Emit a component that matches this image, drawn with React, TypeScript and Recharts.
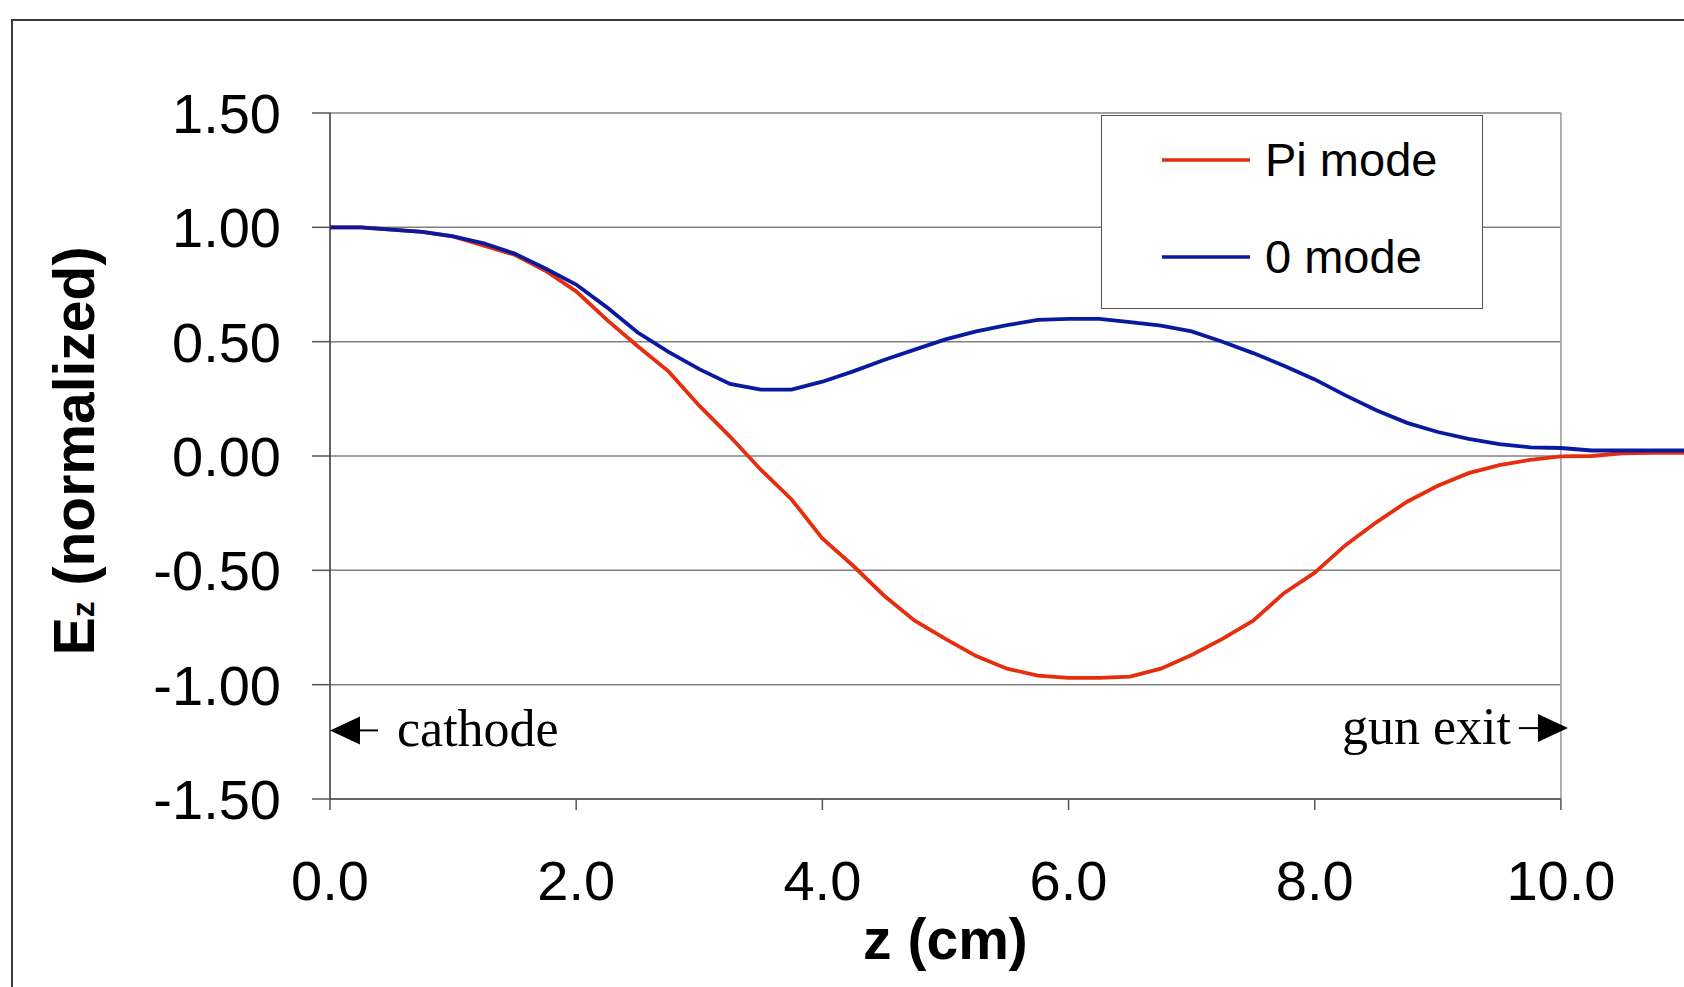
import { LineChart, Line, XAxis, YAxis, ReferenceLine, ReferenceDot, Legend } from "recharts";

// z position along the gun (cm)
const zValues = [
  0, 0.25, 0.5, 0.75, 1, 1.25, 1.5, 1.75, 2, 2.25, 2.5, 2.75, 3, 3.25, 3.5, 3.75,
  4, 4.25, 4.5, 4.75, 5, 5.25, 5.5, 5.75, 6, 6.25, 6.5, 6.75, 7, 7.25, 7.5, 7.75,
  8, 8.25, 8.5, 8.75, 9, 9.25, 9.5, 9.75, 10, 10.25, 10.5, 10.75, 11,
];

// Pi mode, Ez normalized
const piMode = [
  1.0, 1.0, 0.99, 0.98, 0.96, 0.92, 0.88, 0.81, 0.72, 0.595, 0.48, 0.37, 0.22, 0.085, -0.06, -0.19,
  -0.36, -0.48, -0.61, -0.72, -0.8, -0.875, -0.93, -0.96, -0.97, -0.97, -0.965, -0.93, -0.87, -0.8, -0.72, -0.6,
  -0.51, -0.39, -0.29, -0.2, -0.13, -0.075, -0.04, -0.017, -0.002, 0.0, 0.012, 0.014, 0.014,
];

// 0 mode, Ez normalized
const zeroMode = [
  1.0, 1.0, 0.99, 0.98, 0.96, 0.93, 0.885, 0.82, 0.75, 0.65, 0.54, 0.455, 0.38, 0.315, 0.29, 0.29,
  0.325, 0.37, 0.42, 0.465, 0.51, 0.545, 0.572, 0.595, 0.6, 0.6, 0.585, 0.57, 0.545, 0.5, 0.45, 0.395,
  0.335, 0.265, 0.2, 0.145, 0.105, 0.075, 0.052, 0.038, 0.035, 0.024, 0.024, 0.024, 0.024,
];

const seriesNames = ["Pi mode", "0 mode"];
const xTicks = [0, 2, 4, 6, 8, 10];
const yTicks = [-1.5, -1.0, -0.5, 0, 0.5, 1.0, 1.5];

const data = zValues.map((z, i) => ({ z, pi: piMode[i], zero: zeroMode[i] }));

const SANS = '"Liberation Sans", Arial, sans-serif';
const SERIF = '"Liberation Serif", "Times New Roman", serif';
const RED = "#E62E0E";
const BLUE = "#0A1A9F";

function YTitle(props: any) {
  const { viewBox } = props;
  const cx = 94;
  const cy = viewBox.y + viewBox.height / 2 - 5;
  return (
    <text
      x={cx}
      y={cy}
      transform={`rotate(-90, ${cx}, ${cy})`}
      textAnchor="middle"
      fontFamily={SANS}
      fontWeight="bold"
      fontSize={57}
      fill="#000"
    >
      E<tspan fontSize={32}>z</tspan>
      <tspan> (normalized)</tspan>
    </text>
  );
}

function XTitle(props: any) {
  const { viewBox } = props;
  // centred under the 0..10 span of the 0..11 domain
  const cx = viewBox.x + (viewBox.width * 5) / 11;
  return (
    <text x={cx} y={viewBox.y + 160} textAnchor="middle" fontFamily={SANS} fontWeight="bold" fontSize={57} fill="#000">
      z (cm)
    </text>
  );
}

function LegendBox(props: any) {
  const items = [...(props.payload || [])].sort(
    (a: any, b: any) => seriesNames.indexOf(a.value) - seriesNames.indexOf(b.value)
  );
  return (
    <div
      style={{
        position: "relative",
        width: 382,
        height: 194,
        boxSizing: "border-box",
        border: "1.5px solid #555",
        background: "#fff",
      }}
    >
      {items.map((entry: any, i: number) => (
        <div
          key={entry.value}
          style={{
            position: "absolute",
            left: 60,
            top: 44 + i * 97 - 30,
            height: 60,
            display: "flex",
            alignItems: "center",
          }}
        >
          <svg width={90} height={6} style={{ display: "block" }}>
            <line x1={0} y1={3} x2={88} y2={3} stroke={entry.color} strokeWidth={3.6} />
          </svg>
          <span style={{ fontFamily: SANS, fontSize: 47, color: "#000", marginLeft: 13, lineHeight: "60px" }}>
            {entry.value}
          </span>
        </div>
      ))}
    </div>
  );
}

function CathodeMark(props: any) {
  const { cx, cy } = props;
  return (
    <g>
      <polygon points={`${cx},${cy} ${cx + 30},${cy - 14} ${cx + 30},${cy + 14}`} fill="#000" />
      <line x1={cx + 28} y1={cy} x2={cx + 48} y2={cy} stroke="#000" strokeWidth={2} />
      <text x={cx + 67} y={cy + 16} fontFamily={SERIF} fontSize={52} fill="#000">
        cathode
      </text>
    </g>
  );
}

function ExitMark(props: any) {
  const { cx, cy } = props;
  return (
    <g>
      <line x1={cx - 42} y1={cy} x2={cx - 21} y2={cy} stroke="#000" strokeWidth={2} />
      <polygon points={`${cx + 7},${cy} ${cx - 23},${cy - 14} ${cx - 23},${cy + 14}`} fill="#000" />
      <text x={cx - 50} y={cy + 16} textAnchor="end" fontFamily={SERIF} fontSize={52} fill="#000">
        gun exit
      </text>
    </g>
  );
}

export default function App() {
  return (
    <div style={{ position: "fixed", left: 0, top: 0, width: 1684, height: 987, overflow: "hidden", background: "#fff" }}>
      <div
        style={{
          position: "absolute",
          left: 11,
          top: 19,
          width: 1720,
          height: 1020,
          borderLeft: "2px solid #3a3a3a",
          borderTop: "2px solid #3a3a3a",
        }}
      />
      <div style={{ position: "absolute", left: 0, top: 0 }}>
        <LineChart width={1684} height={987} data={data} margin={{ top: 113, right: 0, bottom: 68, left: 80 }}>
          {yTicks
            .filter((v) => v !== -1.5)
            .map((v) => (
              <ReferenceLine
                key={v}
                segment={[
                  { x: 0, y: v },
                  { x: 10, y: v },
                ]}
                stroke="#808080"
                strokeWidth={1.5}
              />
            ))}
          <ReferenceLine
            segment={[
              { x: 10, y: -1.5 },
              { x: 10, y: 1.5 },
            ]}
            stroke="#999"
            strokeWidth={1.5}
          />
          <ReferenceLine
            segment={[
              { x: 0, y: -1.5 },
              { x: 10, y: -1.5 },
            ]}
            stroke="#333"
            strokeWidth={1.5}
          />
          <XAxis
            dataKey="z"
            type="number"
            domain={[0, 11]}
            ticks={xTicks}
            tickFormatter={(v: number) => v.toFixed(1)}
            axisLine={false}
            tickSize={11}
            tickMargin={50}
            height={120}
            tickLine={{ stroke: "#555", strokeWidth: 1.5 }}
            tick={{ fontSize: 56, fill: "#000", fontFamily: SANS }}
            label={XTitle}
          />
          <YAxis
            type="number"
            domain={[-1.5, 1.5]}
            ticks={yTicks}
            tickFormatter={(v: number) => v.toFixed(2)}
            width={250}
            tickSize={18}
            tickMargin={31}
            axisLine={{ stroke: "#333", strokeWidth: 1.5 }}
            tickLine={{ stroke: "#555", strokeWidth: 1.5 }}
            tick={{ fontSize: 56, fill: "#000", fontFamily: SANS }}
            label={YTitle}
          />
          <Legend
            content={LegendBox}
            layout="horizontal"
            verticalAlign="middle"
            align="center"
            wrapperStyle={{ left: 1101, top: 115, width: 382, height: 194 }}
          />
          <ReferenceDot x={0} y={-1.2} r={0} shape={CathodeMark} />
          <ReferenceDot x={10} y={-1.19} r={0} shape={ExitMark} />
          <Line
            type="linear"
            dataKey="pi"
            name="Pi mode"
            stroke={RED}
            strokeWidth={3.8}
            dot={false}
            isAnimationActive={false}
          />
          <Line
            type="linear"
            dataKey="zero"
            name="0 mode"
            stroke={BLUE}
            strokeWidth={3.8}
            dot={false}
            isAnimationActive={false}
          />
        </LineChart>
      </div>
    </div>
  );
}
